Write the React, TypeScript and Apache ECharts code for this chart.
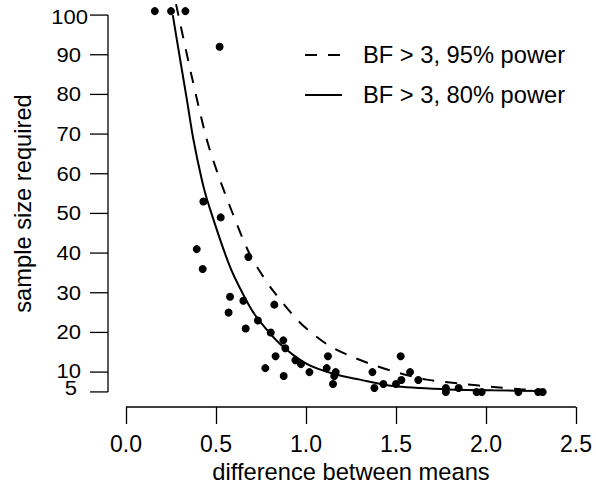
import React, { useEffect, useRef } from "react";
import * as echarts from "echarts";

// ---- axes ----
const xTicks = [0, 0.5, 1.0, 1.5, 2.0, 2.5];
const yTicks = [5, 10, 20, 30, 40, 50, 60, 70, 80, 90, 100];
const xRange = [-0.1, 2.6];
const yRange = [1.2, 103.8];

// ---- observed points: difference between means / sample size ----
const pointX = [
  0.16, 0.25, 0.33, 0.52, 0.43, 0.526, 0.393, 0.68, 0.426, 0.578, 0.652, 0.824,
  0.57, 0.733, 0.665, 0.804, 0.874, 0.885, 0.831, 1.122, 0.941, 0.972, 0.774,
  1.115, 1.019, 1.165, 1.157, 0.876, 1.15, 1.526, 1.369, 1.578, 1.53, 1.624,
  1.38, 1.43, 1.5, 1.777, 1.777, 1.848, 1.948, 1.976, 2.18, 2.29, 2.315,
];
const pointY = [
  101, 101, 101, 92, 53, 49, 41, 39, 36, 29, 28, 27, 25, 23, 21, 20, 18, 16, 14,
  14, 13, 12, 11, 11, 10, 10, 9, 9, 7, 14, 10, 10, 8, 8, 6, 7, 7, 6, 5, 6, 5, 5,
  5, 5, 5,
];

// ---- fitted curves ----
const seriesNames = ["BF > 3, 95% power", "BF > 3, 80% power"];
const power95X = [
  0.278, 0.365, 0.448, 0.513, 0.596, 0.68, 0.735, 0.819, 0.957, 1.05, 1.143,
  1.254, 1.356, 1.485, 1.67, 1.856, 2.04, 2.19, 2.32,
];
const power95Y = [
  102.75, 84.6, 68.75, 59.6, 49.6, 40.4, 36.0, 30.4, 22.9, 19.2, 16.25, 13.9,
  12.1, 10.2, 8.1, 7.1, 6.25, 5.7, 5.5,
];
const power80X = [
  0.26, 0.3, 0.338, 0.374, 0.42, 0.457, 0.578, 0.68, 0.735, 0.856, 1.004, 1.152,
  1.3, 1.485, 1.763, 2.04, 2.32,
];
const power80Y = [
  100, 89, 78.75, 68.75, 58.75, 52.5, 36.5, 27.1, 23.3, 17.1, 12.1, 9.6, 8.1,
  6.5, 5.7, 5.4, 5.25,
];

const FONT = "'Liberation Sans', Arial, Helvetica, sans-serif";
const FS_TICK = 23;
const FS_TEXT = 23.7;
const AXIS_W = 1.3;

const zip = (xs: number[], ys: number[]) => xs.map((x, i) => [x, ys[i]]);

export default function App() {
  const ref = useRef<HTMLDivElement>(null);

  useEffect(() => {
    if (!ref.current) return;
    const chart = echarts.init(ref.current, null, { renderer: "svg" });
    chart.setOption({
      animation: false,
      backgroundColor: "#fff",
      grid: { left: 108, top: 0, width: 486, height: 410 },
      xAxis: {
        type: "value",
        min: xRange[0],
        max: xRange[1],
        name: "difference between means",
        nameLocation: "middle",
        nameGap: 53,
        nameTextStyle: { fontSize: FS_TEXT, fontFamily: FONT, color: "#000" },
        axisLine: { show: false },
        splitLine: { show: false },
        axisTick: {
          show: true,
          customValues: xTicks,
          length: 17,
          lineStyle: { color: "#000", width: AXIS_W },
        },
        axisLabel: {
          customValues: xTicks,
          margin: 25,
          fontSize: FS_TICK,
          fontFamily: FONT,
          color: "#000",
          formatter: (v: number) => v.toFixed(1),
        },
      },
      yAxis: {
        type: "value",
        min: yRange[0],
        max: yRange[1],
        name: "sample size required",
        nameLocation: "middle",
        nameRotate: 90,
        nameGap: 73,
        nameTextStyle: { fontSize: FS_TEXT, fontFamily: FONT, color: "#000" },
        axisLine: { show: false },
        splitLine: { show: false },
        axisTick: { show: false },
        axisLabel: { show: false },
      },
      series: [
        {
          name: "points",
          type: "scatter",
          data: zip(pointX, pointY),
          symbol: "circle",
          symbolSize: 8,
          itemStyle: { color: "#000", opacity: 1 },
        },
        {
          name: seriesNames[0],
          type: "line",
          data: zip(power95X, power95Y),
          symbol: "none",
          smooth: 0.3,
          lineStyle: { color: "#000", width: 2, type: [12, 11] },
        },
        {
          name: seriesNames[1],
          type: "line",
          data: zip(power80X, power80Y),
          symbol: "none",
          smooth: 0.3,
          lineStyle: { color: "#000", width: 2 },
        },
      ],
    });

    // axis lines, y ticks, y tick labels and legend derived from the scales
    const px = (x: number, y: number) =>
      chart.convertToPixel({ gridIndex: 0 }, [x, y]) as number[];
    const stroke = { stroke: "#000", lineWidth: AXIS_W };
    const g: any[] = [];
    const yTop = px(xRange[0], yTicks[yTicks.length - 1]);
    const yBot = px(xRange[0], yTicks[0]);
    g.push({
      type: "line",
      shape: { x1: yTop[0], y1: yTop[1], x2: yBot[0], y2: yBot[1] },
      style: stroke,
    });
    const xL = px(xTicks[0], yRange[0]);
    const xR = px(xTicks[xTicks.length - 1], yRange[0]);
    g.push({
      type: "line",
      shape: { x1: xL[0], y1: xL[1], x2: xR[0], y2: xR[1] },
      style: stroke,
    });
    yTicks.forEach((v) => {
      const p = px(xRange[0], v);
      g.push({
        type: "line",
        shape: { x1: p[0] - 18, y1: p[1], x2: p[0], y2: p[1] },
        style: stroke,
      });
      const dx = v === 100 ? 20 : v === 5 ? 31 : 27;
      const dy = v === 100 ? 2 : v === 5 ? -4 : v === 10 ? -1 : 0;
      g.push({
        type: "text",
        x: p[0] - dx,
        y: p[1] + dy,
        scaleY: 0.88,
        style: {
          text: String(v),
          fontSize: 22,
          fontFamily: FONT,
          fill: "#000",
          align: "right",
          verticalAlign: "middle",
        },
      });
    });
    // legend
    const legendRows = [55, 95];
    seriesNames.forEach((name, i) => {
      const y = legendRows[i];
      g.push({
        type: "line",
        shape: { x1: 305, y1: y, x2: i === 0 ? 340 : 342, y2: y },
        style: {
          stroke: "#000",
          lineWidth: 2,
          lineDash: i === 0 ? [12, 11] : null,
        },
      });
      g.push({
        type: "text",
        x: 363,
        y,
        style: {
          text: name,
          fontSize: FS_TEXT,
          fontFamily: FONT,
          fill: "#000",
          align: "left",
          verticalAlign: "middle",
        },
      });
    });
    chart.setOption({ graphic: g });

    return () => chart.dispose();
  }, []);

  return (
    <div
      ref={ref}
      style={{ position: "fixed", left: 0, top: 0, width: 596, height: 489 }}
    />
  );
}
